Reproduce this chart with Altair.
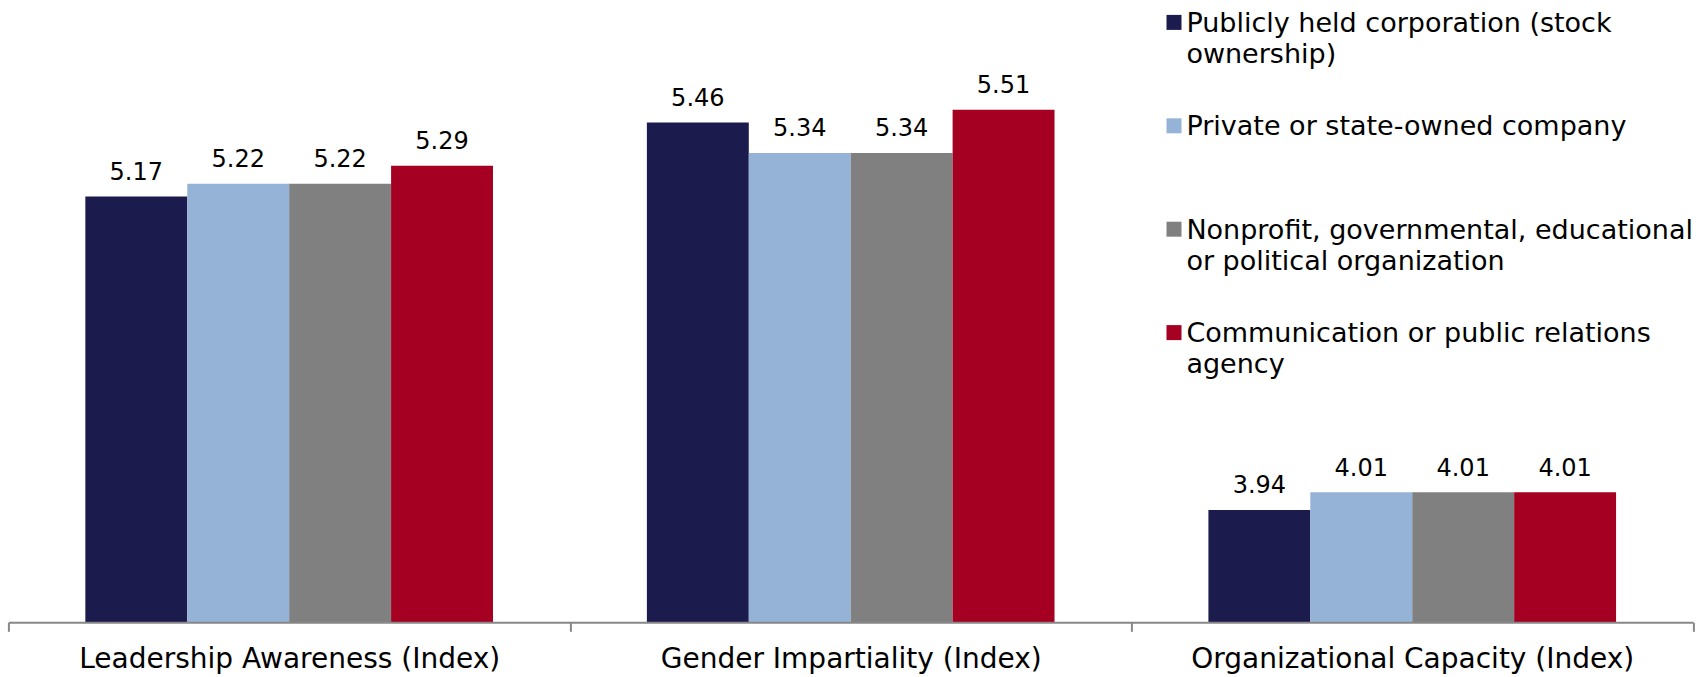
import altair as alt
import pandas as pd

# Index categories along the x axis
categories = [
    "Leadership Awareness (Index)",
    "Gender Impartiality (Index)",
    "Organizational Capacity (Index)",
]

# Organisation types (one bar each per category)
series = [
    "Publicly held corporation (stock ownership)",
    "Private or state-owned company",
    "Nonprofit, governmental, educational or political organization",
    "Communication or public relations agency",
]
legend_text = [
    "Publicly held corporation (stock\nownership)",
    "Private or state-owned company",
    "Nonprofit, governmental, educational\nor political organization",
    "Communication or public relations\nagency",
]
colors = ["#1C1B4D", "#95B3D7", "#808080", "#A50021"]

# Mean index scores per organisation type, in category order
publicly_held = [5.17, 5.46, 3.94]
private_state = [5.22, 5.34, 4.01]
nonprofit_gov = [5.22, 5.34, 4.01]
comm_agency = [5.29, 5.51, 4.01]

# Value axis range (bars rise from the lower bound)
y_min, y_max = 3.5, 5.6

values = [publicly_held, private_state, nonprofit_gov, comm_agency]
rows = []
for s, vals in zip(series, values):
    for c, v in zip(categories, vals):
        rows.append({"category": c, "series": s, "value": v, "label": f"{v:.2f}"})
df = pd.DataFrame(rows)
legend_df = pd.DataFrame({"series": series, "text": legend_text})

FONT = "DejaVu Sans"

x_axis = alt.Axis(
    labelAngle=0,
    labelFont=FONT,
    labelFontSize=28,
    labelColor="#000000",
    labelPadding=14,
    labelBaseline="top",
    labelLimit=0,
    tickBand="extent",
    tickSize=9,
    tickWidth=2,
    tickColor="#878787",
    domainColor="#878787",
    domainWidth=2,
    grid=False,
    zindex=1,
)
x_enc = alt.X(
    "category:N",
    sort=categories,
    title=None,
    scale=alt.Scale(paddingInner=0, paddingOuter=0),
    axis=x_axis,
)
xoff_enc = alt.XOffset(
    "series:N", sort=series, scale=alt.Scale(paddingInner=0, paddingOuter=0.755)
)
y_scale = alt.Scale(domain=[y_min, y_max], zero=False, nice=False)
y_enc = alt.Y("value:Q", scale=y_scale, axis=None)
color_enc = alt.Color(
    "series:N", sort=series, scale=alt.Scale(domain=series, range=colors), legend=None
)

base = alt.Chart(df)

bars = base.mark_bar().encode(
    x=x_enc, xOffset=xoff_enc, y=y_enc, y2=alt.datum(y_min), color=color_enc
)

labels = base.mark_text(
    font=FONT, fontSize=24, color="#000000", baseline="alphabetic", dy=-16.7
).encode(x=x_enc, xOffset=xoff_enc, y=y_enc, text="label:N")

# Legend drawn in the upper right of the plot
legend_y = alt.Y(
    "series:N",
    sort=series,
    scale=alt.Scale(domain=series, range=[-55.1, 255.1], padding=0),
    axis=None,
)
legend_squares = alt.Chart(legend_df).mark_square(
    size=225, opacity=1, filled=True, yOffset=-9.3
).encode(x=alt.value(1165.6), y=legend_y, color=color_enc)

legend_labels = alt.Chart(legend_df).mark_text(
    font=FONT,
    fontSize=27,
    color="#000000",
    align="left",
    baseline="alphabetic",
    lineBreak="\n",
    lineHeight=31.5,
).encode(x=alt.value(1178), y=legend_y, text="text:N")

chart = (
    alt.layer(bars, labels, legend_squares, legend_labels)
    .resolve_scale(y="independent")
    .properties(
        width=1684.6,
        height=535.5,
        autosize="none",
        padding={"left": 8.4, "top": 86.8, "right": 7, "bottom": 54.7},
        background="#ffffff",
    )
    .configure_view(stroke=None)
)

chart.save("out.html", embed_options={"renderer": "svg", "actions": False})
